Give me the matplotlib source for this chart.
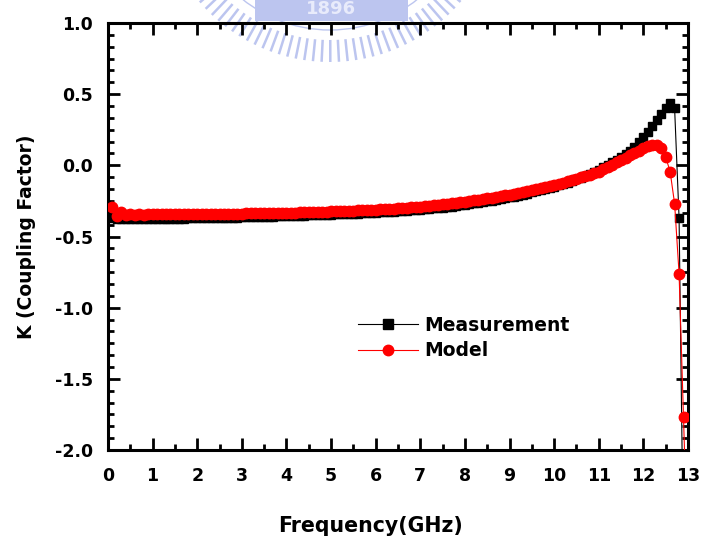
import numpy as np
import matplotlib
matplotlib.use("Agg")
import matplotlib.pyplot as plt
from matplotlib.ticker import MultipleLocator, AutoMinorLocator
from matplotlib.lines import Line2D
from matplotlib.patches import Circle, Rectangle

# Frequency sweep (GHz)
freq = np.round(np.arange(1, 131) * 0.1, 1)

# Measured coupling factor K
measurement = [
    -0.370, -0.378, -0.378, -0.379, -0.378, -0.378, -0.377, -0.377, -0.377, -0.376,
    -0.376, -0.376, -0.375, -0.375, -0.374, -0.374, -0.374, -0.373, -0.373, -0.372,
    -0.372, -0.371, -0.371, -0.370, -0.370, -0.369, -0.368, -0.368, -0.367, -0.366,
    -0.365, -0.364, -0.363, -0.363, -0.362, -0.361, -0.360, -0.359, -0.358, -0.357,
    -0.356, -0.355, -0.354, -0.353, -0.352, -0.351, -0.350, -0.349, -0.347, -0.346,
    -0.345, -0.344, -0.342, -0.341, -0.340, -0.339, -0.337, -0.336, -0.334, -0.333,
    -0.331, -0.329, -0.327, -0.325, -0.323, -0.321, -0.319, -0.317, -0.314, -0.312,
    -0.309, -0.306, -0.303, -0.300, -0.297, -0.294, -0.290, -0.286, -0.282, -0.278,
    -0.273, -0.268, -0.263, -0.258, -0.253, -0.248, -0.242, -0.237, -0.231, -0.225,
    -0.219, -0.212, -0.205, -0.198, -0.190, -0.183, -0.175, -0.167, -0.159, -0.150,
    -0.141, -0.131, -0.121, -0.110, -0.099, -0.088, -0.076, -0.063, -0.047, -0.030,
    -0.015, 0.002, 0.020, 0.039, 0.058, 0.080, 0.104, 0.130, 0.162, 0.198,
    0.235, 0.275, 0.320, 0.360, 0.405, 0.440, 0.400, -0.370, -2.800, -3.000,
]

# Modelled coupling factor K
model = [
    -0.290, -0.355, -0.326, -0.346, -0.343, -0.346, -0.345, -0.346, -0.345, -0.345,
    -0.345, -0.345, -0.344, -0.344, -0.344, -0.344, -0.344, -0.343, -0.343, -0.343,
    -0.343, -0.342, -0.342, -0.342, -0.341, -0.341, -0.340, -0.340, -0.339, -0.339,
    -0.338, -0.338, -0.337, -0.337, -0.336, -0.336, -0.335, -0.334, -0.334, -0.333,
    -0.332, -0.332, -0.331, -0.330, -0.329, -0.328, -0.327, -0.326, -0.325, -0.324,
    -0.323, -0.322, -0.321, -0.320, -0.319, -0.317, -0.316, -0.315, -0.313, -0.312,
    -0.310, -0.309, -0.307, -0.305, -0.303, -0.301, -0.299, -0.296, -0.293, -0.290,
    -0.287, -0.284, -0.281, -0.278, -0.275, -0.272, -0.268, -0.264, -0.260, -0.255,
    -0.251, -0.246, -0.241, -0.236, -0.231, -0.226, -0.221, -0.216, -0.211, -0.205,
    -0.199, -0.193, -0.187, -0.181, -0.175, -0.168, -0.161, -0.154, -0.147, -0.140,
    -0.131, -0.122, -0.113, -0.104, -0.095, -0.085, -0.075, -0.066, -0.056, -0.045,
    -0.028, -0.012, 0.004, 0.021, 0.037, 0.054, 0.071, 0.087, 0.104, 0.120,
    0.135, 0.145, 0.145, 0.122, 0.058, -0.045, -0.270, -0.760, -1.770, -2.800,
]

x_ticks = list(range(0, 14))
y_ticks = [-2.0, -1.5, -1.0, -0.5, 0.0, 0.5, 1.0]

plt.rcParams["font.family"] = "DejaVu Sans"
plt.rcParams["font.weight"] = "bold"

W, H = 704, 546
fig = plt.figure(figsize=(W / 100, H / 100), dpi=100)

# faint seal in the page background, top centre
wm = fig.add_axes([0, 0, 1, 1], zorder=0)
wm.set_xlim(0, W)
wm.set_ylim(H, 0)
wm.axis("off")
seal = "#bcc5ef"
cx, cy = 330, -110
for th in np.arange(0, 180, 2.9):
    t = np.radians(th)
    wm.plot([cx + 150 * np.cos(t), cx + 172 * np.cos(t)],
            [cy + 150 * np.sin(t), cy + 172 * np.sin(t)],
            color=seal, lw=1.8, solid_capstyle="butt")
wm.add_patch(Circle((cx, cy), 140, fill=False, ec=seal, lw=1.0))
wm.add_patch(Rectangle((255, -5), 153, 26, fc=seal, ec="none"))
wm.text(331, 9, "1896", color="#e8ebfb", fontsize=13, fontweight="bold",
        ha="center", va="center")

ax = fig.add_axes([108 / W, 1 - 450 / H, 580 / W, 427 / H], zorder=1)
ax.set_facecolor("none")

ax.plot(freq, measurement, color="black", lw=0.8, marker="s", ms=6,
        mec="black", mfc="black", zorder=3)
ax.plot(freq, model, color="red", lw=0.8, marker="o", ms=7.5,
        mec="red", mfc="red", zorder=4)

ax.set_xlim(0, 13)
ax.set_ylim(-2.0, 1.0)
ax.set_xticks(x_ticks)
ax.set_xticklabels([str(t) for t in x_ticks])
ax.set_yticks(y_ticks)
ax.set_yticklabels([f"{t:.1f}" for t in y_ticks])
ax.xaxis.set_minor_locator(MultipleLocator(0.5))
ax.yaxis.set_minor_locator(AutoMinorLocator(6))

for s in ax.spines.values():
    s.set_linewidth(2.2)
ax.tick_params(which="both", direction="in", top=True, right=True, width=2.0)
ax.tick_params(which="major", length=8.5, labelsize=12.5)
ax.tick_params(axis="x", which="major", pad=12)
ax.tick_params(axis="y", which="major", pad=11)
ax.tick_params(which="minor", length=4.5)
for lab in ax.get_xticklabels() + ax.get_yticklabels():
    lab.set_fontweight("bold")

ax.set_xlabel("Frequency(GHz)", fontsize=14.8, fontweight="bold")
ax.xaxis.set_label_coords(0.452, -0.155)
ax.set_ylabel("K (Coupling Factor)", fontsize=13.5, fontweight="bold")
ax.yaxis.set_label_coords(-0.124, 0.5)

handles = [
    Line2D([], [], color="black", lw=0.8, marker="s", ms=6.5),
    Line2D([], [], color="red", lw=0.8, marker="o", ms=7.5),
]
fig.legend(handles, ["Measurement", "Model"], loc="center left",
           bbox_to_anchor=(358 / W, 1 - 338 / H), frameon=False,
           prop={"size": 13.5, "weight": "bold"}, handlelength=3.2,
           handletextpad=0.35, labelspacing=0.35, borderpad=0, borderaxespad=0)

fig.savefig("out.png", dpi=100)
